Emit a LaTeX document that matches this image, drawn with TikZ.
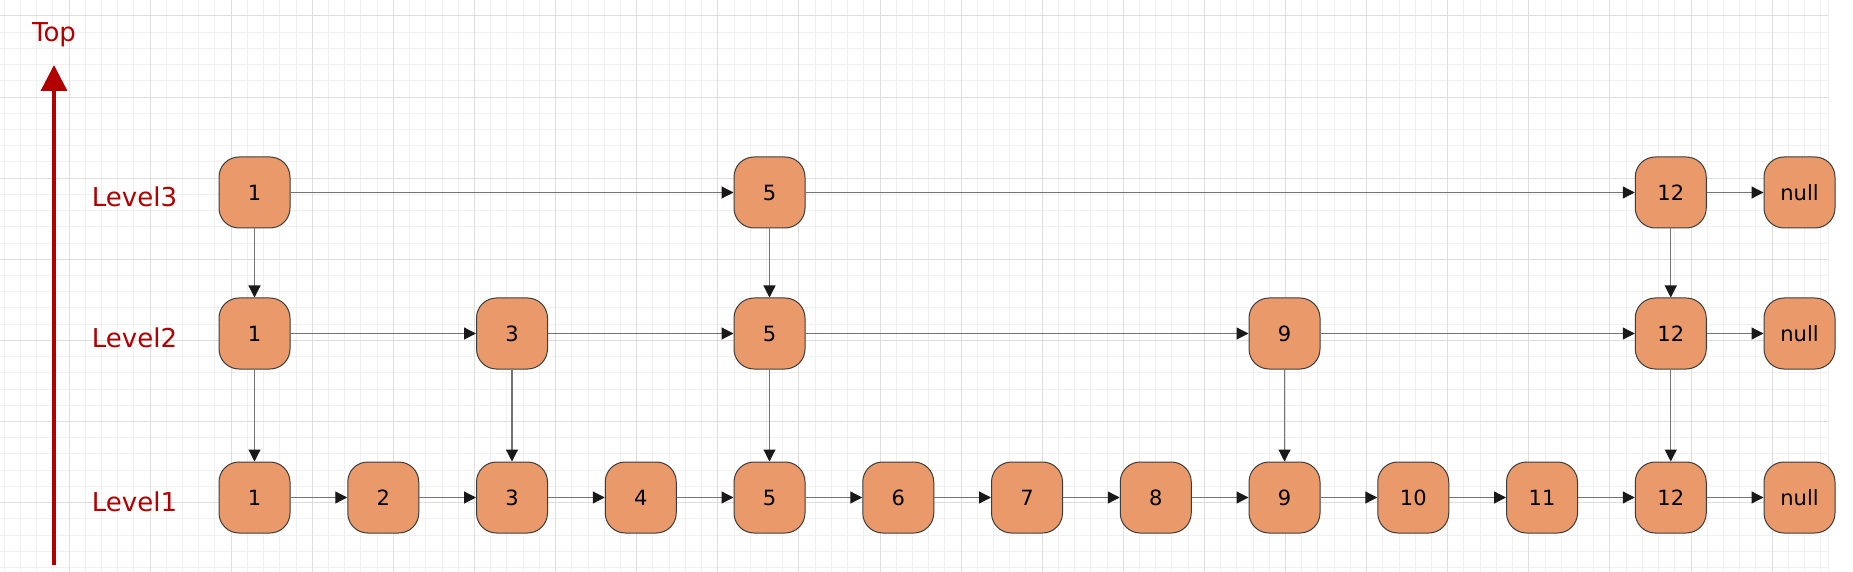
\documentclass[tikz,border=0pt]{standalone}
\usepackage{fontspec}
\setmainfont{DejaVu Sans}
\usepackage{tikz}
\usetikzlibrary{arrows.meta, positioning}
\definecolor{cellfill}{RGB}{234,154,106}
\definecolor{celldraw}{RGB}{60,60,60}
\definecolor{topred}{RGB}{178,0,0}
\tikzset{
  cell/.style={
    rectangle, rounded corners=10pt, draw=celldraw, line width=0.5pt,
    fill=cellfill, minimum width=35.5pt, minimum height=35.5pt,
    inner sep=0pt, font=\fontsize{10.5pt}{12pt}\selectfont
  },
  lvl/.style={
    text=topred, inner sep=0pt, font=\fontsize{13pt}{15pt}\selectfont
  },
  arrow/.style={-{Triangle[length=6pt,width=6pt,color=black!90]}, draw=black!55, line width=0.6pt},
  uparrow/.style={-{Triangle[length=13pt,width=13pt]}, draw=topred, line width=1.7pt},
  minorgrid/.style={draw=black!6, line width=0.5pt},
  majorgrid/.style={draw=black!13, line width=0.5pt}
}
\begin{document}
\begin{tikzpicture}[node distance=64.375pt, on grid]

\useasboundingbox (0,0) rectangle (926.5pt,-286pt);
\fill[white] (0,0) rectangle (926.5pt,-286pt);

% grid paper
\begin{scope}[shift={(34.5pt,-8pt)}]
\draw[minorgrid, step=8.11pt] (-34.5pt,8pt) grid (879.5pt,-278pt);
\draw[majorgrid, step=40.55pt] (-34.5pt,8pt) grid (879.5pt,-278pt);
\end{scope}
\draw[minorgrid] (914pt,0) -- (914pt,-286pt);

% level 1
\node[cell] (l1_1) at (127.25pt,-248.75pt) {1};
\node[cell, right=of l1_1] (l1_2) {2};
\node[cell, right=of l1_2] (l1_3) {3};
\node[cell, right=of l1_3] (l1_4) {4};
\node[cell, right=of l1_4] (l1_5) {5};
\node[cell, right=of l1_5] (l1_6) {6};
\node[cell, right=of l1_6] (l1_7) {7};
\node[cell, right=of l1_7] (l1_8) {8};
\node[cell, right=of l1_8] (l1_9) {9};
\node[cell, right=of l1_9] (l1_10) {10};
\node[cell, right=of l1_10] (l1_11) {11};
\node[cell, right=of l1_11] (l1_12) {12};
\node[cell, right=of l1_12] (l1_null) {null};

% level 2
\node[cell, above=82pt of l1_1] (l2_1) {1};
\node[cell, above=82pt of l1_3] (l2_3) {3};
\node[cell, above=82pt of l1_5] (l2_5) {5};
\node[cell, above=82pt of l1_9] (l2_9) {9};
\node[cell, above=82pt of l1_12] (l2_12) {12};
\node[cell, above=82pt of l1_null] (l2_null) {null};

% level 3
\node[cell, above=70.5pt of l2_1] (l3_1) {1};
\node[cell, above=70.5pt of l2_5] (l3_5) {5};
\node[cell, above=70.5pt of l2_12] (l3_12) {12};
\node[cell, above=70.5pt of l2_null] (l3_null) {null};

% labels
\node[lvl, left=60pt of l1_1, yshift=-2pt] (lab1) {Level1};
\node[lvl, left=60pt of l2_1, yshift=-2pt] (lab2) {Level2};
\node[lvl, left=60pt of l3_1, yshift=-2pt] (lab3) {Level3};

\coordinate (ax_base) at (27pt,-282.5pt);
\coordinate (ax_tip) at (27pt,-32.5pt);
\draw[uparrow] (ax_base) -- (ax_tip);
\node[lvl, above=9pt of ax_tip] (top) {Top};

% horizontal links
\draw[arrow] (l1_1) -- (l1_2);
\draw[arrow] (l1_2) -- (l1_3);
\draw[arrow] (l1_3) -- (l1_4);
\draw[arrow] (l1_4) -- (l1_5);
\draw[arrow] (l1_5) -- (l1_6);
\draw[arrow] (l1_6) -- (l1_7);
\draw[arrow] (l1_7) -- (l1_8);
\draw[arrow] (l1_8) -- (l1_9);
\draw[arrow] (l1_9) -- (l1_10);
\draw[arrow] (l1_10) -- (l1_11);
\draw[arrow] (l1_11) -- (l1_12);
\draw[arrow] (l1_12) -- (l1_null);

\draw[arrow] (l2_1) -- (l2_3);
\draw[arrow] (l2_3) -- (l2_5);
\draw[arrow] (l2_5) -- (l2_9);
\draw[arrow] (l2_9) -- (l2_12);
\draw[arrow] (l2_12) -- (l2_null);

\draw[arrow] (l3_1) -- (l3_5);
\draw[arrow] (l3_5) -- (l3_12);
\draw[arrow] (l3_12) -- (l3_null);

% down links
\draw[arrow] (l3_1) -- (l2_1);
\draw[arrow] (l3_5) -- (l2_5);
\draw[arrow] (l3_12) -- (l2_12);
\draw[arrow] (l2_1) -- (l1_1);
\draw[arrow] (l2_3) -- (l1_3);
\draw[arrow] (l2_5) -- (l1_5);
\draw[arrow] (l2_9) -- (l1_9);
\draw[arrow] (l2_12) -- (l1_12);

\end{tikzpicture}
\end{document}
